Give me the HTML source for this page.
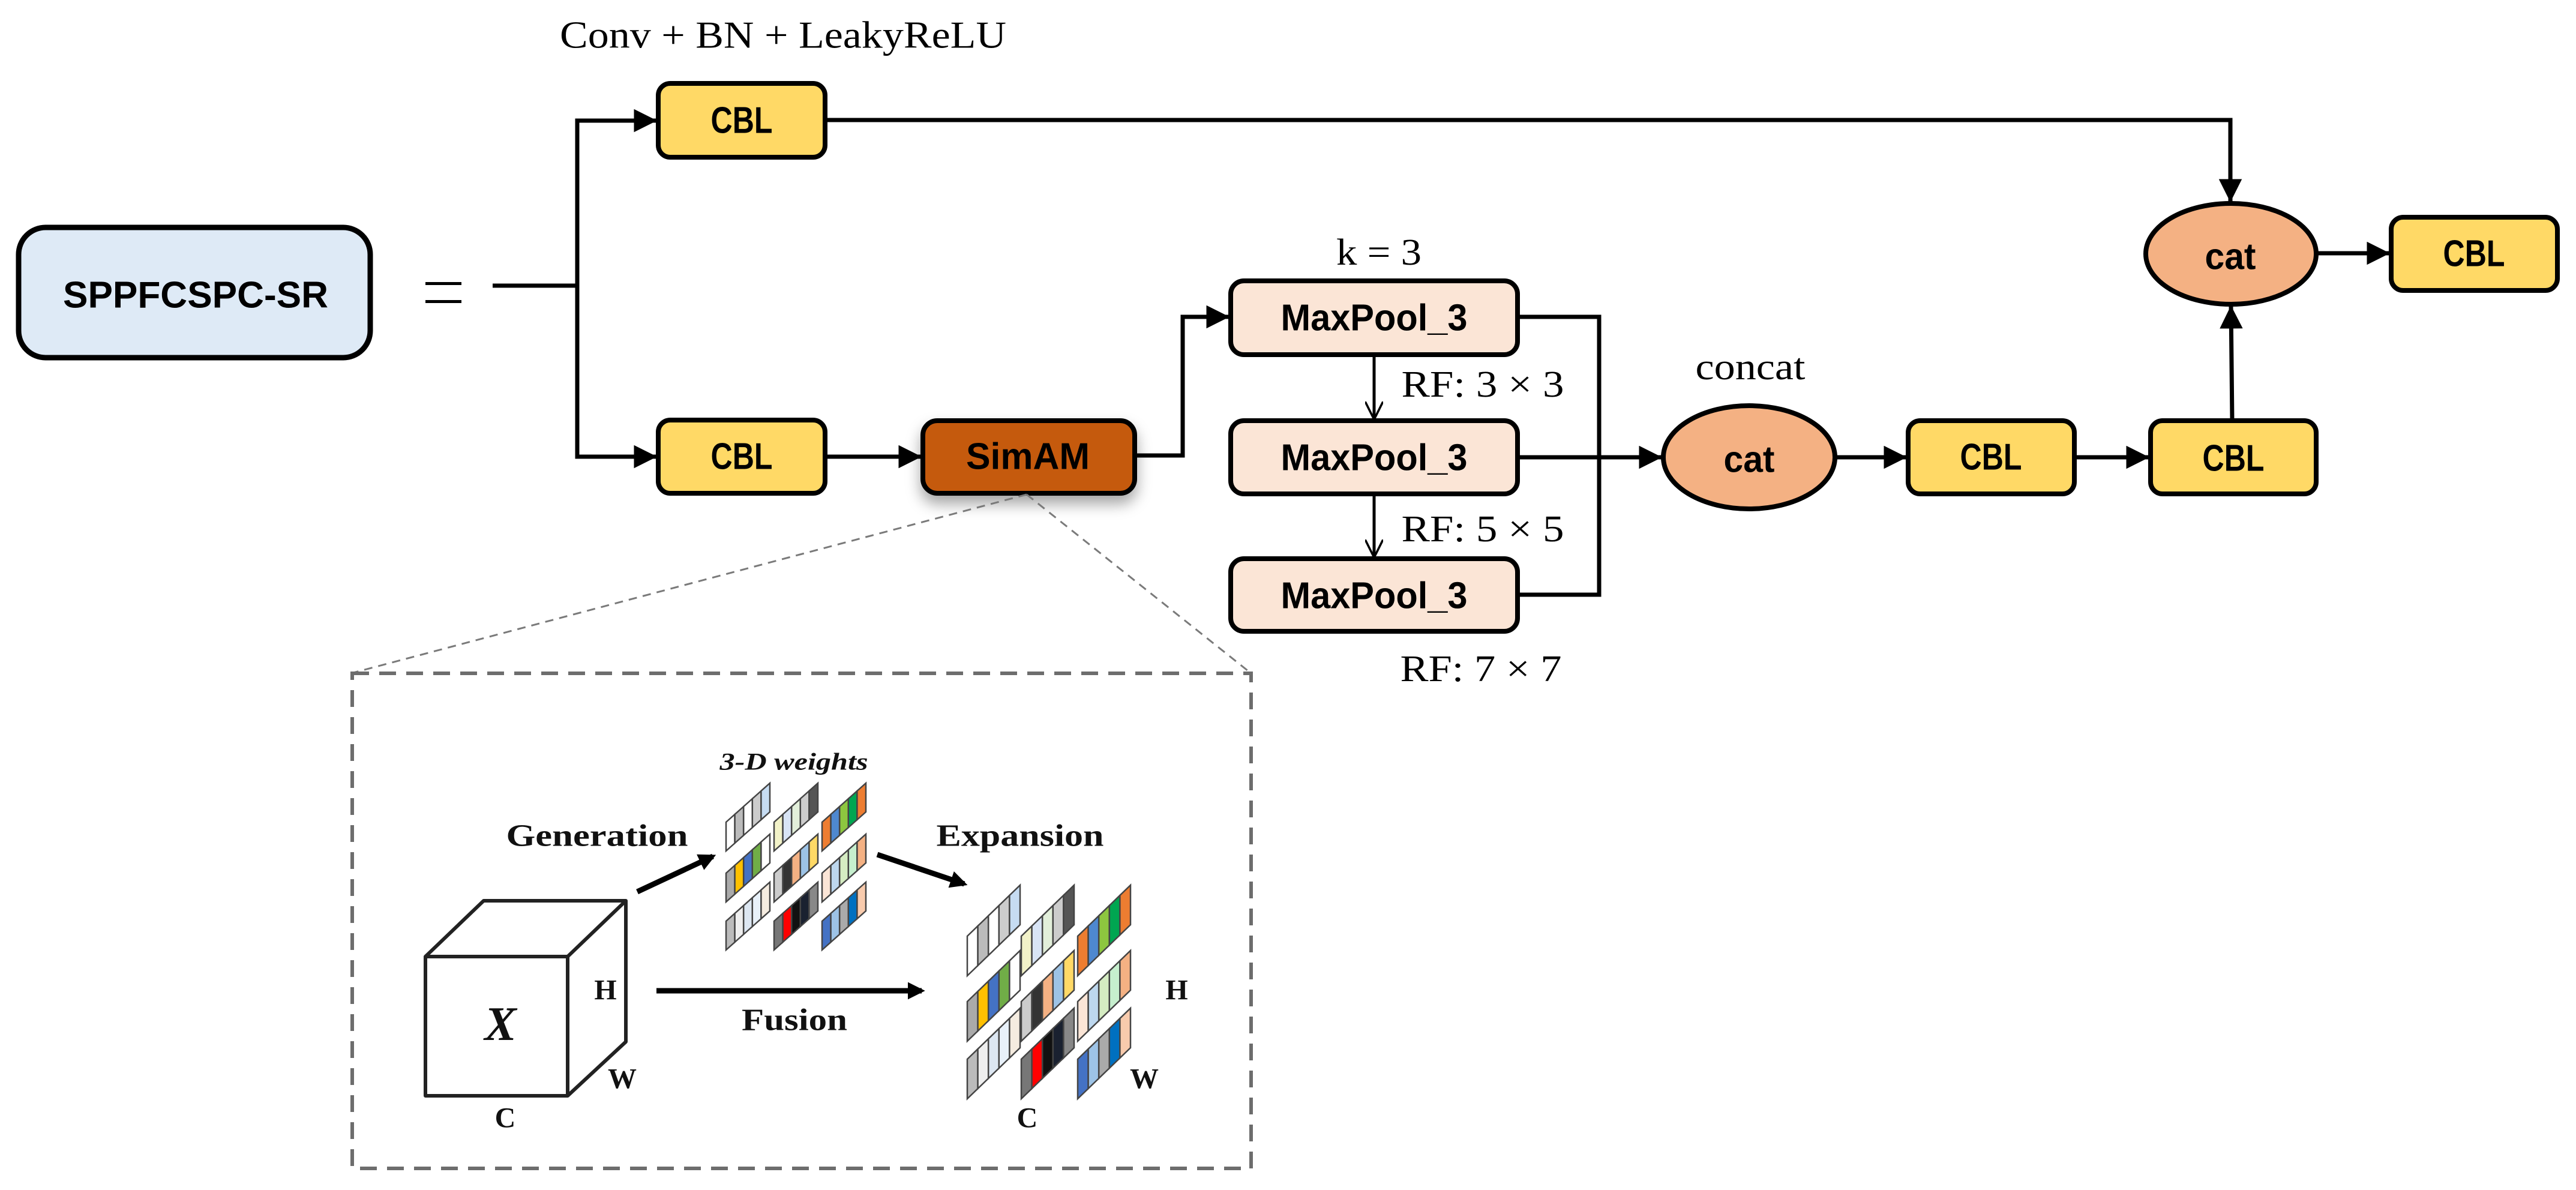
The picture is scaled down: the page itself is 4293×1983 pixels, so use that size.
<!DOCTYPE html>
<html><head><meta charset="utf-8"><style>
html,body{margin:0;padding:0;background:#fff}
svg{display:block}
.bx{font-family:"Liberation Sans",Arial,sans-serif;font-size:62px;font-weight:bold;fill:#000;text-anchor:middle;dominant-baseline:central}
.sf{font-family:"Liberation Serif","Times New Roman",serif;fill:#000;text-anchor:middle;dominant-baseline:central}
.bs{font-family:"Liberation Serif",serif;font-weight:bold;fill:#111;text-anchor:middle;dominant-baseline:central}
</style></head><body>
<svg id="s" width="4293" height="1983" viewBox="0 0 4293 1983" xmlns="http://www.w3.org/2000/svg">
<defs>
<marker id="a" viewBox="0 0 10 10" refX="10" refY="5" markerWidth="5.5" markerHeight="5.5" markerUnits="strokeWidth" orient="auto"><path d="M0,0 L10,5 L0,10 z" fill="#000"/></marker>
<marker id="v" viewBox="0 0 10 10" refX="10" refY="5" markerWidth="6" markerHeight="6" markerUnits="strokeWidth" orient="auto"><path d="M0,0 L10,5 L0,10" fill="none" stroke="#000" stroke-width="1.2"/></marker>
<marker id="b" viewBox="0 0 10 10" refX="8" refY="5" markerWidth="3.2" markerHeight="3.2" markerUnits="strokeWidth" orient="auto"><path d="M0,0 L10,5 L0,10 z" fill="#000"/></marker>
<filter id="sh" x="-20%" y="-30%" width="140%" height="170%"><feDropShadow dx="0" dy="14" stdDeviation="12" flood-color="#000" flood-opacity="0.35"/></filter>
</defs>

<text class="sf" x="1305" y="58" font-size="64" textLength="744" lengthAdjust="spacingAndGlyphs">Conv + BN + LeakyReLU</text>

<rect x="31" y="379" width="586" height="217" rx="45" fill="#deeaf6" stroke="#000" stroke-width="9"/>
<text class="bx" x="326" y="492" font-size="66" textLength="442" lengthAdjust="spacingAndGlyphs">SPPFCSPC-SR</text>
<rect x="709" y="470" width="60" height="5" fill="#000"/>
<rect x="709" y="500" width="60" height="5" fill="#000"/>

<g fill="none" stroke="#000" stroke-width="7">
<polyline points="821,476 962,476"/>
<polyline points="962,760 962,201 1095,201" marker-end="url(#a)"/>
<polyline points="962,476 962,761 1095,761" marker-end="url(#a)"/>
<polyline points="1375,761 1536,761" marker-end="url(#a)"/>
<polyline points="1892,759 1971,759 1971,528 2049,528" marker-end="url(#a)"/>
<polyline points="1375,200 3717,200 3717,337" marker-end="url(#a)"/>
<polyline points="2529,528 2665,528 2665,991 2529,991"/>
<polyline points="2529,762 2770,762" marker-end="url(#a)"/>
<polyline points="3059,762 3178,762" marker-end="url(#a)"/>
<polyline points="3457,762 3582,762" marker-end="url(#a)"/>
<polyline points="3720,701 3718,509" marker-end="url(#a)"/>
<polyline points="3860,422 3983,422" marker-end="url(#a)"/>
</g>
<g fill="none" stroke="#000" stroke-width="5">
<line x1="2290" y1="591" x2="2290" y2="699" marker-end="url(#v)"/>
<line x1="2290" y1="823" x2="2290" y2="929" marker-end="url(#v)"/>
</g>

<g stroke="#000" stroke-width="8" fill="#ffd966">
<rect x="1097" y="139" width="278" height="123" rx="20"/>
<rect x="1097" y="700" width="278" height="122" rx="20"/>
<rect x="3180" y="701" width="277" height="122" rx="20"/>
<rect x="3584" y="701" width="276" height="122" rx="20"/>
<rect x="3985" y="362" width="277" height="122" rx="20"/>
</g>
<text class="bx" x="1236" y="201" textLength="103" lengthAdjust="spacingAndGlyphs">CBL</text>
<text class="bx" x="1236" y="761" textLength="103" lengthAdjust="spacingAndGlyphs">CBL</text>
<text class="bx" x="3318" y="762" textLength="103" lengthAdjust="spacingAndGlyphs">CBL</text>
<text class="bx" x="3722" y="764" textLength="103" lengthAdjust="spacingAndGlyphs">CBL</text>
<text class="bx" x="4123" y="423" textLength="103" lengthAdjust="spacingAndGlyphs">CBL</text>

<rect x="1538" y="701" width="353" height="121" rx="24" fill="#c55a11" stroke="#000" stroke-width="8" filter="url(#sh)"/>
<text class="bx" x="1713" y="761" textLength="206" lengthAdjust="spacingAndGlyphs">SimAM</text>

<g stroke="#000" stroke-width="8" fill="#fbe5d6">
<rect x="2051" y="468" width="478" height="123" rx="22"/>
<rect x="2051" y="701" width="478" height="122" rx="22"/>
<rect x="2051" y="931" width="478" height="121" rx="22"/>
</g>
<text class="bx" x="2290" y="530" textLength="311" lengthAdjust="spacingAndGlyphs">MaxPool_3</text>
<text class="bx" x="2290" y="763" textLength="311" lengthAdjust="spacingAndGlyphs">MaxPool_3</text>
<text class="bx" x="2290" y="993" textLength="311" lengthAdjust="spacingAndGlyphs">MaxPool_3</text>

<text class="sf" x="2298" y="421" font-size="62" textLength="142" lengthAdjust="spacingAndGlyphs">k = 3</text>
<text class="sf" x="2471" y="641" font-size="62" textLength="271" lengthAdjust="spacingAndGlyphs">RF: 3 × 3</text>
<text class="sf" x="2471" y="882" font-size="62" textLength="271" lengthAdjust="spacingAndGlyphs">RF: 5 × 5</text>
<text class="sf" x="2468" y="1115" font-size="62" textLength="269" lengthAdjust="spacingAndGlyphs">RF: 7 × 7</text>
<text class="sf" x="2917" y="612" font-size="62" textLength="183" lengthAdjust="spacingAndGlyphs">concat</text>

<ellipse cx="2915" cy="762" rx="143" ry="86" fill="#f4b183" stroke="#000" stroke-width="8"/>
<ellipse cx="3718" cy="423" rx="142" ry="84" fill="#f4b183" stroke="#000" stroke-width="8"/>
<text class="bx" x="2915" y="766" textLength="85" lengthAdjust="spacingAndGlyphs">cat</text>
<text class="bx" x="3717" y="428" textLength="85" lengthAdjust="spacingAndGlyphs">cat</text>

<g stroke="#7a7a7a" stroke-width="3" stroke-dasharray="14,10" fill="none">
<line x1="1711" y1="824" x2="585" y2="1122"/>
<line x1="1711" y1="824" x2="2085" y2="1122"/>
</g>
<rect x="587" y="1122" width="1498" height="825" fill="none" stroke="#6d6d6d" stroke-width="6" stroke-dasharray="28,17"/>

<g fill="none" stroke="#222" stroke-width="6" stroke-linejoin="round">
<polygon points="709,1594 946,1594 946,1826 709,1826"/>
<polyline points="709,1594 806,1501 1043,1501 946,1594"/>
<polyline points="1043,1501 1043,1736 946,1826"/>
</g>
<text class="bs" x="834" y="1707" font-size="80" font-style="italic">X</text>
<text class="bs" x="1009" y="1650" font-size="48">H</text>
<text class="bs" x="1037" y="1798" font-size="48">W</text>
<text class="bs" x="842" y="1863" font-size="48">C</text>
<text class="bs" x="1961" y="1650" font-size="48">H</text>
<text class="bs" x="1907" y="1798" font-size="48">W</text>
<text class="bs" x="1712" y="1863" font-size="48">C</text>
<text class="bs" x="995" y="1393" font-size="52" textLength="303" lengthAdjust="spacingAndGlyphs">Generation</text>
<text class="bs" x="1700" y="1393" font-size="52" textLength="279" lengthAdjust="spacingAndGlyphs">Expansion</text>
<text class="bs" x="1324" y="1700" font-size="52" textLength="176" lengthAdjust="spacingAndGlyphs">Fusion</text>
<text class="bs" x="1323" y="1269" font-size="40" font-style="italic" textLength="247" lengthAdjust="spacingAndGlyphs">3-D weights</text>
<g stroke="#000" stroke-width="9" fill="none">
<line x1="1062" y1="1486" x2="1188" y2="1427" marker-end="url(#b)"/>
<line x1="1462" y1="1424" x2="1607" y2="1473" marker-end="url(#b)"/>
<line x1="1094" y1="1651" x2="1536" y2="1651" marker-end="url(#b)"/>
</g>
<g id="strips"></g>
</svg>
<script>
var C=[
["#fff","#bbb","#fff","#ccc","#c6dcf2"],["#f2f2c8","#d8e4f5","#e2efda","#ccc","#555"],["#ed7d31","#4e88d0","#8dc63f","#00a651","#ed7d31"],
["#aaa","#ffc000","#4472c4","#70ad47","#fff"],["#ccc","#333","#f4b183","#9dc3e6","#ffd966"],["#fbe5d6","#bdd7ee","#d5ecc2","#c6efce","#f4b183"],
["#bbb","#eee","#dde7f2","#e8f1fa","#f5ece0"],["#777","#ff0000","#111","#1a2130","#888"],["#4472c4","#9dc3e6","#aaa","#0070c0","#f8cbad"]];
var g=document.getElementById("strips"),h="";
function strip(x0,y0,cw,rise,ht,cols){
 for(var i=0;i<5;i++){var xa=x0+i*cw,xb=xa+cw,ya=y0-i*rise,yb=ya-rise;
 h+='<polygon points="'+xa+','+ya+' '+xb+','+yb+' '+xb+','+(yb-ht)+' '+xa+','+(ya-ht)+'" fill="'+cols[i]+'" stroke="#444" stroke-width="2.5"/>';}
}
var sx=[1210,1290,1370],sy=[1418,1503,1583];
for(var r=0;r<3;r++)for(var c=0;c<3;c++)strip(sx[c],sy[r],14.6,13,48,C[r*3+c]);
var ex=[1612,1702,1796],ey=[1626,1735,1831];
for(var r=0;r<3;r++)for(var c=0;c<3;c++)strip(ex[c],ey[r],17.6,17,66,C[r*3+c]);
g.innerHTML=h;
</script>
</body></html>
